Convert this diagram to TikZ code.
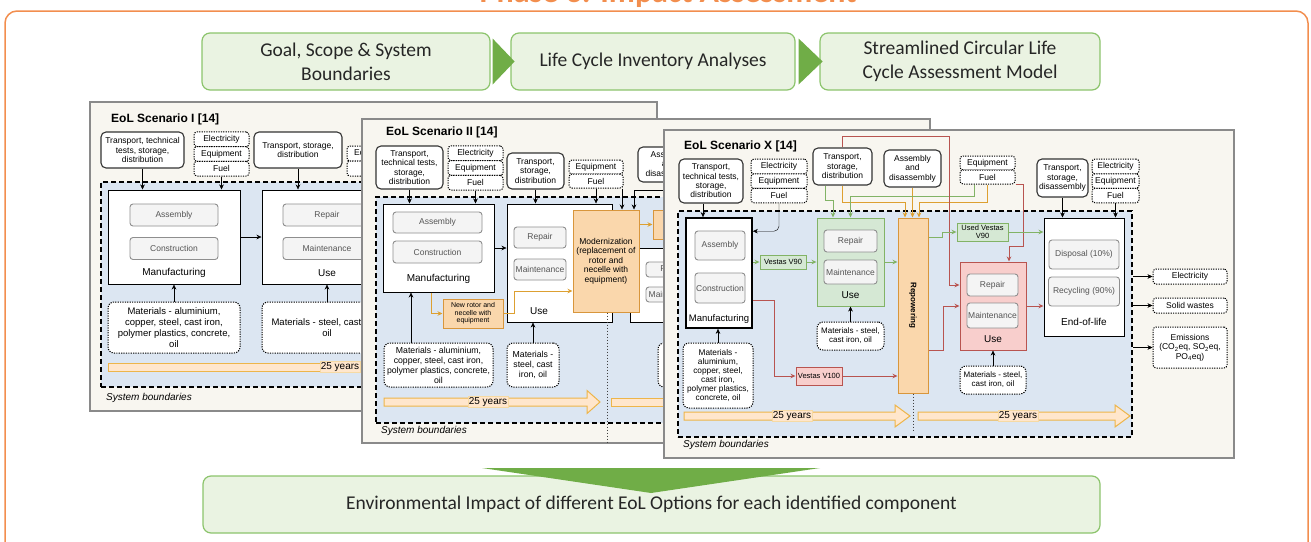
\documentclass[tikz,border=0pt]{standalone}
\usepackage{fontspec}
\setmainfont{Liberation Sans}
\newfontfamily\flowfont{Carlito}
\usetikzlibrary{arrows.meta}

\definecolor{framecol}{HTML}{F28E4E}
\definecolor{flowfill}{HTML}{EAF3E2}
\definecolor{flowdraw}{HTML}{8CC46C}
\definecolor{flowarrow}{HTML}{70AD47}
\definecolor{panelbg}{HTML}{F8F6F0}
\definecolor{panelgray}{HTML}{8A8A8A}
\definecolor{boundblue}{HTML}{DCE6F2}
\definecolor{subfill}{HTML}{F4F4F4}
\definecolor{subgray}{HTML}{8E8E8E}
\definecolor{subtext}{HTML}{555555}
\definecolor{orfill}{HTML}{FAD7AC}
\definecolor{ordraw}{HTML}{D8963C}
\definecolor{grfill}{HTML}{D5E8D4}
\definecolor{grdraw}{HTML}{82B366}
\definecolor{rdfill}{HTML}{F8CECC}
\definecolor{rddraw}{HTML}{B85450}
\definecolor{olinecol}{HTML}{DDA031}
\definecolor{yrsfill}{HTML}{FFE6CC}
\definecolor{yrsdraw}{HTML}{EDB54A}

\tikzset{
  panel/.style={draw=panelgray, fill=panelbg, line width=1.2pt},
  scentitle/.style={anchor=west, inner sep=0pt, font=\bfseries\fontsize{12}{14}\selectfont},
  sysbound/.style={draw=black, fill=boundblue, line width=1.5pt, dash pattern=on 5pt off 3pt, inner sep=0pt},
  bndlabel/.style={anchor=west, inner sep=0pt, font=\itshape\fontsize{10}{12}\selectfont},
  procbox/.style={draw=black, fill=white, line width=1pt, inner sep=0pt},
  plabel/.style={inner sep=0pt, font=\fontsize{10}{12}\selectfont},
  subbox/.style={draw=subgray, fill=subfill, rounded corners=3pt, line width=0.9pt, inner sep=0pt, text=subtext, font=\fontsize{8.5}{10}\selectfont},
  inbox/.style={draw=black!80, fill=white, rounded corners=5pt, line width=1.1pt, align=center, inner sep=0pt, font=\fontsize{8.5}{9.4}\selectfont},
  resbox/.style={draw=black, fill=white, rounded corners=3pt, line width=1pt, dash pattern=on 1.2pt off 1.2pt, align=center, inner sep=0pt, font=\fontsize{8.5}{9.4}\selectfont},
  matbox/.style={resbox, rounded corners=6pt},
  orbox/.style={draw=ordraw, fill=orfill, line width=1pt, align=center, inner sep=0pt, font=\fontsize{8.5}{9.6}\selectfont},
  grbox/.style={draw=grdraw, fill=grfill, line width=1pt, align=center, inner sep=0pt, font=\fontsize{7.5}{8}\selectfont},
  rdbox/.style={draw=rddraw, fill=rdfill, line width=1pt, align=center, inner sep=0pt, font=\fontsize{7.5}{8}\selectfont},
  tagfont/.style={font=\fontsize{7}{7.6}\selectfont},
  gline/.style={draw=grdraw, line width=1pt},
  rline/.style={draw=rddraw, line width=1pt},
  oline/.style={draw=olinecol, line width=1pt},
  yrs/.style={draw=yrsdraw, fill=yrsfill, line width=1pt},
  yrslabel/.style={fill=yrsfill, draw=yrsdraw!50, line width=0.5pt, inner sep=1pt, font=\fontsize{10}{12}\selectfont},
  dotline/.style={draw=black!75, line width=1pt, dash pattern=on 1pt off 2pt},
  flowbox/.style={draw=flowdraw, fill=flowfill, rounded corners=8pt, line width=1.2pt, align=center, text=black!85, font=\flowfont\fontsize{19.5}{24}\selectfont},
}

\begin{document}
\begin{tikzpicture}[x=1pt,y=-1pt,>={Stealth[length=5pt,width=4.5pt]}]
\useasboundingbox (0,0) rectangle (1311,541);
\clip (0,0) rectangle (1311,541);

% outer frame and heading
\draw[framecol, line width=1.5pt, rounded corners=12pt] (5,11) rectangle (1308,575);
\node[anchor=base, inner sep=0pt, text=framecol, font={\flowfont\bfseries\fontsize{32}{36}\selectfont}] (phase) at (668,2.5) {Phase 3: Impact Assessment};

% method steps
\node[flowbox, minimum width=288, minimum height=57] (goal) at (346,61.5) {Goal, Scope \& System\\Boundaries};
\node[flowbox, minimum width=284, minimum height=57] (lci) at (653,61.5) {Life Cycle Inventory Analyses};
\node[flowbox, minimum width=280, minimum height=57] (model) at (960,61.5) {Streamlined Circular Life\\Cycle Assessment Model};
\fill[flowarrow] (goal.east) ++(2,-23) -- ++(0,46) -- ++(22,-23) -- cycle;
\fill[flowarrow] (lci.east) ++(3,-23) -- ++(0,46) -- ++(24,-23) -- cycle;

%% ---------------- scenario I ----------------
\draw[panel] (90,102) rectangle (657,411);
\node[scentitle] (ttlI) at (111,119) {EoL Scenario I [14]};
\node[inbox, minimum width=83, minimum height=36] (trI) at (142.5,150) {Transport, technical\\tests, storage,\\distribution};
\node[resbox, minimum width=55, minimum height=14.7] (elI) at (221.5,139.3) {Electricity};
\node[resbox, minimum width=55, minimum height=14.7] (eqI) at (221.5,154) {Equipment};
\node[resbox, minimum width=55, minimum height=14.7] (fuI) at (221.5,168.7) {Fuel};
\node[inbox, minimum width=88, minimum height=36] (tsI) at (298,150) {Transport, storage,\\distribution};
\node[resbox, minimum width=55, minimum height=15] (eq2I) at (374.5,153.5) {Equipment};
\node[resbox, minimum width=55, minimum height=15] (fu2I) at (374.5,168.5) {Fuel};
\node[sysbound, minimum width=549, minimum height=205] (sbI) at (375.5,284.5) {};
\node[procbox, minimum width=132, minimum height=94] (mfI) at (174,237) {};
\node[subbox, minimum width=88, minimum height=22] (asI) at (174,215) {Assembly};
\node[subbox, minimum width=88, minimum height=22] (coI) at (174,248.5) {Construction};
\node[plabel] (mfIl) at (174,273) {Manufacturing};
\node[procbox, minimum width=130, minimum height=94] (usI) at (327,237) {};
\node[subbox, minimum width=88, minimum height=22] (reI) at (327,215) {Repair};
\node[subbox, minimum width=88, minimum height=22] (maI) at (327,248.5) {Maintenance};
\node[plabel] (usIl) at (327,273) {Use};
\node[matbox, font=\fontsize{9.5}{11}\selectfont, minimum width=132, minimum height=51] (mtI) at (174,327.5) {Materials - aluminium,\\copper, steel, cast iron,\\polymer plastics, concrete,\\oil};
\node[matbox, font=\fontsize{9.5}{11}\selectfont, minimum width=130, minimum height=51] (mt2I) at (327,327.5) {Materials - steel, cast iron,\\oil};
\draw[->] (trI.south) -- (trI.south |- mfI.north);
\draw[->] (fuI.south) -- (fuI.south |- mfI.north);
\draw[->] (tsI.south) -- (tsI.south |- usI.north);
\draw[->] (fu2I.south) -- (fu2I.south |- usI.north);
\draw[->] (mfI.east) -- (usI.west);
\draw[->] (mtI.north) -- (mfI.south);
\draw[->] (mt2I.north) -- (usI.south);
\draw[yrs] (108,363) rectangle (600,371);
\node[yrslabel] (yrI) at (340,367) {25 years};
\node[bndlabel] (sbIl) at (106,398) {System boundaries};

%% ---------------- scenario II ----------------
\draw[panel] (362,119) rectangle (930,443);
\node[scentitle] (ttlII) at (386,132) {EoL Scenario II [14]};
\node[inbox, minimum width=67, minimum height=43] (trII) at (409.5,167.5) {Transport,\\technical tests,\\storage,\\distribution};
\node[resbox, minimum width=55, minimum height=14.7] (elII) at (475.5,153.3) {Electricity};
\node[resbox, minimum width=55, minimum height=14.7] (eqII) at (475.5,168) {Equipment};
\node[resbox, minimum width=55, minimum height=14.7] (fuII) at (475.5,182.7) {Fuel};
\node[inbox, minimum width=57, minimum height=36] (tsII) at (535.5,171) {Transport,\\storage,\\distribution};
\node[resbox, minimum width=54, minimum height=14] (eq2II) at (596,167) {Equipment};
\node[resbox, minimum width=54, minimum height=14] (fu2II) at (596,181) {Fuel};
\node[inbox, minimum width=62, minimum height=35] (adII) at (669,164.5) {Assembly\\and\\disassembly};
\node[sysbound, minimum width=549, minimum height=226] (sbII) at (650.5,310) {};
\node[procbox, minimum width=111, minimum height=88] (mfII) at (438.5,248) {};
\node[subbox, minimum width=89, minimum height=21] (asII) at (437.5,222.5) {Assembly};
\node[subbox, minimum width=89, minimum height=22] (coII) at (437.5,252) {Construction};
\node[plabel] (mfIIl) at (438.5,279) {Manufacturing};
\node[procbox, minimum width=105, minimum height=118] (usII) at (559.5,263) {};
\node[subbox, minimum width=52, minimum height=21] (reII) at (540,237.5) {Repair};
\node[subbox, minimum width=52, minimum height=21] (maII) at (540,269.5) {Maintenance};
\node[plabel] (usIIl) at (539,311) {Use};
\node[procbox, minimum width=90, minimum height=74] (us2II) at (675,285) {};
\node[subbox, minimum width=54, minimum height=15] (re2II) at (673,269.5) {Repair};
\node[subbox, minimum width=54, minimum height=15] (ma2II) at (673,294.5) {Maintenance};
\node[orbox, minimum width=66, minimum height=102] (mdII) at (606,261) {Modernization\\(replacement of\\rotor and\\necelle with\\equipment)};
\node[orbox, minimum width=47, minimum height=29] (rpII) at (676.5,224.5) {};
\node[orbox, tagfont, minimum width=60, minimum height=29] (nrII) at (473,313.5) {New rotor and\\necelle with\\equipment};
\node[matbox, font=\fontsize{8.7}{10}\selectfont, minimum width=109, minimum height=44] (mtII) at (438.5,365) {Materials - aluminium,\\copper, steel, cast iron,\\polymer plastics, concrete,\\oil};
\node[matbox, font=\fontsize{8.7}{10}\selectfont, minimum width=52, minimum height=44] (mt2II) at (533,365) {Materials -\\steel, cast\\iron, oil};
\node[matbox, minimum width=60, minimum height=44] (mt3II) at (688,365) {};
\draw[->] (trII.south) -- (trII.south |- mfII.north);
\draw[->] (fuII.south) -- (fuII.south |- mfII.north);
\draw[->] (tsII.south) -- (tsII.south |- usII.north);
\draw[->] (fu2II.south) -- (fu2II.south |- usII.north);
\draw[->] ([xshift=26pt]fu2II.south) -- ([xshift=26pt]fu2II.south |- mdII.north);
\draw[->] ([xshift=12pt]adII.south) -- ++(0,8) -| ([xshift=28pt]mdII.north);
\draw[->] (mfII.east) -- (mfII.east -| usII.west);
\draw[oline,->] (mdII.east |- rpII) -- (rpII.west);
\draw[oline,->] ([xshift=-7.5pt]mfII.south) |- (nrII.west);
\draw[oline,->] (nrII.east) -- ++(11,0) |- ([yshift=-30pt]mdII.west);
\draw[->] ([xshift=-27.5pt]mtII.north) -- ([xshift=-27.5pt]mtII.north |- mfII.south);
\draw[->] (mt2II.north) -- (mt2II.north |- usII.south);
\draw[yrs] (384,398) -- (587,398) -- (587,390.5) -- (600,402) -- (587,413.5) -- (587,406) -- (384,406) -- cycle;
\node[yrslabel] (yrII) at (488,402) {25 years};
\draw[yrs] (611,398) rectangle (905,406);
\draw[dotline] ([xshift=1pt]mdII.south) -- ++(0,131);
\node[bndlabel] (sbIIl) at (381,431) {System boundaries};

%% ---------------- scenario X ----------------
\draw[panel] (664,130) rectangle (1234,458);
\node[scentitle] (ttlX) at (684,146) {EoL Scenario X [14]};
\node[inbox, minimum width=64, minimum height=44] (trX) at (711,181) {Transport,\\technical tests,\\storage,\\distribution};
\node[resbox, minimum width=56, minimum height=15] (elX) at (779,166.5) {Electricity};
\node[resbox, minimum width=56, minimum height=14.5] (eqX) at (779,181) {Equipment};
\node[resbox, minimum width=56, minimum height=14.5] (fuX) at (779,195.5) {Fuel};
\node[inbox, minimum width=59, minimum height=37] (tsX) at (842.5,166.5) {Transport,\\storage,\\distribution};
\node[inbox, minimum width=57, minimum height=37] (adX) at (912.5,168.5) {Assembly\\and\\disassembly};
\node[resbox, minimum width=55, minimum height=14] (eq2X) at (987.5,163) {Equipment};
\node[resbox, minimum width=55, minimum height=14] (fu2X) at (987.5,177) {Fuel};
\node[inbox, minimum width=51, minimum height=38] (tdX) at (1062.5,178) {Transport,\\storage,\\disassembly};
\node[resbox, minimum width=47, minimum height=15] (el3X) at (1115.5,166.5) {Electricity};
\node[resbox, minimum width=47, minimum height=14.5] (eq3X) at (1115.5,181) {Equipment};
\node[resbox, minimum width=47, minimum height=14.5] (fu3X) at (1115.5,195.5) {Fuel};
\node[sysbound, minimum width=454, minimum height=226] (sbX) at (905,324) {};
% manufacturing and first use
\node[procbox, line width=1.6pt, minimum width=66, minimum height=110] (mfX) at (719,273) {};
\node[subbox, minimum width=50, minimum height=29] (asX) at (720,245.5) {Assembly};
\node[subbox, minimum width=50, minimum height=30] (coX) at (720,288) {Construction};
\node[plabel, font=\fontsize{9.5}{11}\selectfont] (mfXl) at (719,319) {Manufacturing};
\node[matbox, font=\fontsize{8.3}{9}\selectfont, minimum width=70, minimum height=65] (mtX) at (718,375.5) {Materials -\\aluminium,\\copper, steel,\\cast iron,\\polymer plastics,\\concrete, oil};
\node[grbox, minimum width=46, minimum height=14] (v90X) at (783,262) {Vestas V90};
\node[grbox, minimum width=67, minimum height=88] (usGX) at (850.5,262) {};
\node[subbox, minimum width=53, minimum height=22] (reGX) at (850.5,241) {Repair};
\node[subbox, minimum width=53, minimum height=24] (maGX) at (850.5,272) {Maintenance};
\node[plabel] (usGXl) at (850.5,295) {Use};
\node[matbox, font=\fontsize{8}{9}\selectfont, minimum width=67, minimum height=28] (mtGX) at (850.5,336) {Materials - steel,\\cast iron, oil};
\node[rdbox, minimum width=46, minimum height=18] (v100X) at (819,376) {Vestas V100};
% repowering and second use
\node[orbox, minimum width=30, minimum height=175] (rpX) at (913,305.5) {};
\node[rotate=-90, inner sep=0pt, font=\bfseries\fontsize{8}{9}\selectfont] (rpXl) at (rpX.center) {Repowering};
\node[grbox, minimum width=51, minimum height=18] (uvX) at (982.5,232) {Used Vestas\\V90};
\node[rdbox, minimum width=66, minimum height=88] (usRX) at (993,306) {};
\node[subbox, minimum width=51, minimum height=22] (reRX) at (992.5,285) {Repair};
\node[subbox, minimum width=51, minimum height=25] (maRX) at (992.5,315.5) {Maintenance};
\node[plabel] (usRXl) at (993,339) {Use};
\node[matbox, font=\fontsize{8}{9}\selectfont, minimum width=66, minimum height=28] (mtRX) at (993,380) {Materials - steel,\\cast iron, oil};
% end of life and outputs
\node[procbox, minimum width=80, minimum height=118] (eolX) at (1084,277) {};
\node[subbox, minimum width=70, minimum height=29] (dsX) at (1084,254.5) {Disposal (10\%)};
\node[subbox, minimum width=71, minimum height=29] (rcX) at (1084,291.5) {Recycling (90\%)};
\node[plabel] (eolXl) at (1084,322) {End-of-life};
\node[resbox, minimum width=74, minimum height=15] (oelX) at (1190,276.5) {Electricity};
\node[resbox, minimum width=74, minimum height=15] (oswX) at (1190,305.5) {Solid wastes};
\node[resbox, minimum width=74, minimum height=41] (oemX) at (1190,347.5) {Emissions\\(CO\textsubscript{2}eq, SO\textsubscript{2}eq,\\PO\textsubscript{4}eq)};
% flows
\draw[->] ([xshift=-8pt]trX.south) -- ([xshift=-8pt]trX.south |- mfX.north);
\draw[->, rounded corners=5pt] (fuX.south) |- ([yshift=-14pt]mfX.north east);
\draw[->] (mtX.north) -- (mtX.north |- mfX.south);
\draw[gline,->] (mfX.east |- v90X) -- (v90X.west);
\draw[gline,->] (v90X.east) -- (v90X.east -| usGX.west);
\draw[gline,->] (usGX.east) -- (usGX.east -| rpX.west);
\draw[->] (mtGX.north) -- (usGX.south);
\draw[rline,->] ([yshift=-27pt]mfX.east) -| ([xshift=-21pt]v100X.west) -- (v100X.west);
\draw[rline,->] (v100X.east) -- (v100X.east -| rpX.west);
\draw[gline,->] ([xshift=-17.5pt]tsX.south) -- ++(0,15) -| ([xshift=-17.5pt]usGX.north);
\draw[oline,->] (tsX.south) -- ++(0,17) -| ([xshift=-8pt]rpX.north);
\draw[oline,->] (adX.south) -- (adX.south |- rpX.north);
\draw[gline,->] ([xshift=-13.5pt]fu2X.south) -- ++(0,12) -| (usGX.north);
\draw[oline,->] (fu2X.south) -- ++(0,18) -| ([xshift=6pt]rpX.north);
\draw[rline,->] (tsX.north) -- ++(0,-11) -- ++(107,0) |- (usRX.west |- reRX);
\draw[rline,->] (fu2X.south east) -- ++(8,0) -- ++(0,62) -| ([xshift=16pt]usRX.north);
\draw[rline,->] ([yshift=-44.5pt]rpX.east) -- ++(15,0) |- (usRX.west);
\draw[rline,->] (usRX.east) -- (usRX.east -| eolX.west);
\draw[gline,->] ([yshift=-20pt]rpX.north east) -- ++(14,0) |- (uvX.west);
\draw[gline,->] (uvX.east) -- (uvX.east -| eolX.west);
\draw[->] (mtRX.north) -- (usRX.south);
\draw[->] (tdX.south) -- (tdX.south |- eolX.north);
\draw[->] (fu3X.south) -- (fu3X.south |- eolX.north);
\draw[->] (sbX.east |- oelX) -- (oelX.west);
\draw[->] (sbX.east |- oswX) -- (oswX.west);
\draw[->] (sbX.east |- oemX) -- (oemX.west);
% time line
\draw[yrs] (684,412) -- (895,412) -- (895,405) -- (910,416) -- (895,427) -- (895,420) -- (684,420) -- cycle;
\node[yrslabel] (yrX) at (792,416) {25 years};
\draw[yrs] (918,412) -- (1115,412) -- (1115,405) -- (1130,416) -- (1115,427) -- (1115,420) -- (918,420) -- cycle;
\node[yrslabel] (yr2X) at (1018,416) {25 years};
\draw[dotline] (rpX.south) -- ++(0,37);
\node[bndlabel] (sbXl) at (683,445) {System boundaries};

% result
\node[flowbox, minimum width=897, minimum height=57] (impact) at (651.5,504.5) {Environmental Impact of different EoL Options for each identified component};
\fill[flowarrow] (482,468) -- (820,468) -- (651,493) -- cycle;
\end{tikzpicture}
\end{document}
